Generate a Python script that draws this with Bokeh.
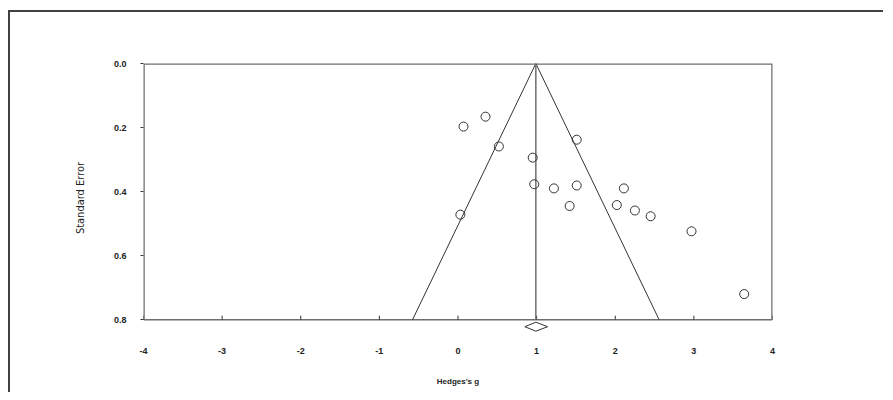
from bokeh.plotting import figure
from bokeh.models import Range1d, FixedTicker, NumeralTickFormatter, Label, ColumnDataSource
from bokeh.embed import file_html
from bokeh.resources import INLINE

# ---- data ----
hedges_g = [0.07, 0.35, 0.52, 1.51, 0.95, 0.97, 1.22, 1.51, 2.11, 1.42, 2.02, 2.25, 2.45, 0.03, 2.97, 3.64]
std_err = [0.197, 0.166, 0.259, 0.238, 0.294, 0.377, 0.390, 0.381, 0.390, 0.445, 0.442, 0.459, 0.477, 0.472, 0.524, 0.720]
combined_g = 0.99
combined_ci = [0.85, 1.14]
se_max = 0.8
z = 1.96
x_ticks = [-4, -3, -2, -1, 0, 1, 2, 3, 4]
y_ticks = [0.0, 0.2, 0.4, 0.6, 0.8]

AX = "#6e6e6e"
INK = "#333333"

y_pad = 0.04          # room below the axis for the combined-effect diamond
px = se_max / 256.0   # one pixel in SE units (0.8 spans 256 px)

p = figure(width=875, height=382, output_backend="svg", toolbar_location=None,
           x_range=Range1d(x_ticks[0], x_ticks[-1]), y_range=Range1d(se_max + y_pad, 0.0),
           min_border_left=133, min_border_right=113, min_border_top=51, min_border_bottom=62)
p.styles = {"border-top": "2px solid #404040", "border-left": "2px solid #404040",
            "margin-left": "8px", "margin-top": "10px"}
p.grid.visible = False
p.outline_line_color = None
p.background_fill_color = "white"
p.border_fill_color = "white"

# x axis (labels only; the axis line is drawn at SE = 0.8 below)
xa = p.xaxis[0]
xa.ticker = FixedTicker(ticks=x_ticks)
xa.major_label_overrides = {t: str(t) for t in x_ticks}
xa.axis_line_color = None
xa.major_tick_line_color = None
xa.minor_tick_line_color = None
xa.major_label_standoff = 9
xa.major_label_text_font = "Liberation Sans"
xa.major_label_text_font_style = "bold"
xa.major_label_text_font_size = "9px"
xa.major_label_text_color = "#222222"
xa.axis_label = "Hedges's g"
xa.axis_label_text_font = "Liberation Sans"
xa.axis_label_text_font_style = "bold"
xa.axis_label_text_font_size = "8px"
xa.axis_label_text_color = "#222222"
xa.axis_label_standoff = 20

# y axis
ya = p.yaxis[0]
ya.ticker = FixedTicker(ticks=y_ticks)
ya.formatter = NumeralTickFormatter(format="0.0")
ya.axis_line_color = None
ya.major_tick_line_color = INK
ya.major_tick_in = 0
ya.major_tick_out = 3
ya.minor_tick_line_color = None
ya.major_label_standoff = 14
ya.major_label_text_font = "Liberation Sans"
ya.major_label_text_font_style = "bold"
ya.major_label_text_font_size = "9px"
ya.major_label_text_color = "#222222"
ya.axis_label = "Standard Error"
ya.axis_label_text_font = "'Liberation Sans Narrow', 'DejaVu Sans Condensed', 'Roboto Condensed', sans-serif"
ya.axis_label_text_font_style = "normal"
ya.axis_label_text_font_size = "11px"
ya.axis_label_text_color = "#222222"
ya.axis_label_standoff = 24

# plot box: left, top, right edges and the x axis line at SE = 0.8
x0, x1 = x_ticks[0], x_ticks[-1]
y0, y1 = y_ticks[0], y_ticks[-1]
p.line([x0, x0, x1, x1], [y1, y0, y0, y1], line_color=AX, line_width=2.5)
p.line([x0, x1], [y1, y1], line_color=AX, line_width=1.5)
# x tick marks pointing up from the axis line
p.segment(x0=x_ticks, y0=[y1] * len(x_ticks), x1=x_ticks, y1=[y1 - 4 * px] * len(x_ticks),
          line_color=INK, line_width=1)

# funnel
p.line([combined_g - z * se_max, combined_g, combined_g + z * se_max], [se_max, 0.0, se_max],
       line_color=INK, line_width=1)
p.line([combined_g, combined_g], [0.0, se_max], line_color=AX, line_width=1.5)

# studies
src = ColumnDataSource(dict(x=hedges_g, y=std_err))
p.scatter("x", "y", source=src, marker="circle", size=9, fill_color=None,
          line_color=INK, line_width=1)

# combined-effect diamond below the axis line
dy = se_max + 7 * px
p.patch([combined_ci[0], combined_g, combined_ci[1], combined_g],
        [dy, dy - 4.5 * px, dy, dy + 4.5 * px],
        fill_color="white", line_color=INK, line_width=1)

# title
p.add_layout(Label(x=(x0 + x1) / 2, y=-26 * px, text="Funnel Plot of Standard Error by Hedges's g",
                   text_align="center", text_baseline="middle",
                   text_font="Liberation Sans", text_font_style="bold",
                   text_font_size="14px", text_color="#111111"))

open("out.html", "w").write(file_html(p, INLINE))
